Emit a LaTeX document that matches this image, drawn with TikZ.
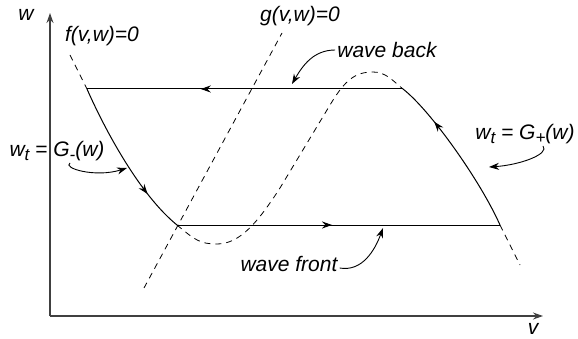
\documentclass[tikz,border=0pt]{standalone}
\usepackage{fontspec}
\setmainfont{Liberation Sans}
\usepackage{tikz}
\usetikzlibrary{positioning, arrows.meta, calc, decorations.markings}

% lowered index, as in w_t and G_+
\newcommand{\lowsub}[1]{\raisebox{-4pt}{\fontsize{17}{17}\selectfont #1}}

\begin{document}
\begin{tikzpicture}[
    x=1pt, y=-1pt,
    % Custom styles for axes, curves and labels
    axis/.style={line width=1.3pt, draw=black!75, -{Stealth[length=10pt, width=7pt]}},
    null_dash/.style={line width=0.8pt, dash pattern=on 6pt off 5pt},
    orbit/.style={line width=1pt},
    mid_arrow/.style={postaction={decorate, decoration={markings,
        mark=at position #1 with {\arrow{Stealth[length=10pt, width=7pt]}}}}},
    note_arrow/.style={line width=0.9pt, -{Stealth[length=10pt, width=7pt]}},
    txt/.style={font=\fontsize{21}{25}\selectfont\itshape, inner sep=2pt}
]
\useasboundingbox (0,0) rectangle (578,339);

% ==========================================
% CORNERS OF THE CYCLE
% ==========================================
\coordinate (O) at (50,316);
\coordinate (TL) at (87,89);
\coordinate (TR) at (403,89);
\coordinate (BL) at (177,225);
\coordinate (BR) at (500,225);

% ==========================================
% 1. The Axes
% ==========================================
\coordinate (w_end) at (50,13);
\coordinate (v_end) at (543,316);
\draw[axis] (O) -- (w_end);
\draw[axis] (O) -- (v_end);
\node[txt] (w_lab) at (26,15) {w};
\node[txt] (v_lab) at (533,329) {v};

% ==========================================
% 2. The Nullclines (dashed parts)
% ==========================================
\coordinate (f_start) at (70,55);
\coordinate (f_end) at (520,265);
\draw[null_dash] (f_start) -- (TL);
\draw[null_dash] (BL) .. controls (195,240) and (200,244) .. (217,244)
    .. controls (240,244) and (258,222) .. (280,188) -- (330,105)
    .. controls (345,80) and (355,72) .. (373,72)
    .. controls (386,72) and (393,81) .. (TR);
\draw[null_dash] (BR) -- (f_end);

\coordinate (g_start) at (144,288);
\coordinate (g_end) at (282,33);
\draw[null_dash] (g_start) -- (g_end);

\node[txt] (f_lab) at (102,36) {f(v,w)=0};
\node[txt] (g_lab) at (300,16) {g(v,w)=0};

% ==========================================
% 3. The Cycle (solid, with arrows)
% ==========================================
\draw[orbit, mid_arrow=0.74] (TL) .. controls (105,130) and (140,195) .. (BL);
\draw[orbit, mid_arrow=0.48] (BL) -- (BR);
\draw[orbit, mid_arrow=0.73] (BR) .. controls (480,180) and (430,110) .. (TR);
\draw[orbit, mid_arrow=0.64] (TR) -- (TL);

% ==========================================
% 4. The Notes
% ==========================================
\node[txt] (wb) at (387,50) {wave back};
\coordinate (wb_tip) at (292,84);
\draw[note_arrow] (wb.west) to[out=180, in=60] (wb_tip);

\node[txt] (wf) at (289,264) {wave front};
\coordinate (wf_tip) at (383,228);
\draw[note_arrow] ([yshift=-4pt]wf.east) to[out=-10, in=-110] (wf_tip);

\node[txt] (g_minus) at (57,151) {w\lowsub{t} = G\lowsub{-}(w)};
\coordinate (gm_tip) at (127,168);
\draw[note_arrow] ([xshift=13pt]g_minus.south) .. controls +(-8,5) and (95,178) .. (gm_tip);

\node[txt] (g_plus) at (525,134) {w\lowsub{t} = G\lowsub{+}(w)};
\coordinate (gp_tip) at (489,167);
\draw[note_arrow] ([xshift=18pt]g_plus.south) .. controls +(7,8) and (520,165) .. (gp_tip);

\end{tikzpicture}
\end{document}
